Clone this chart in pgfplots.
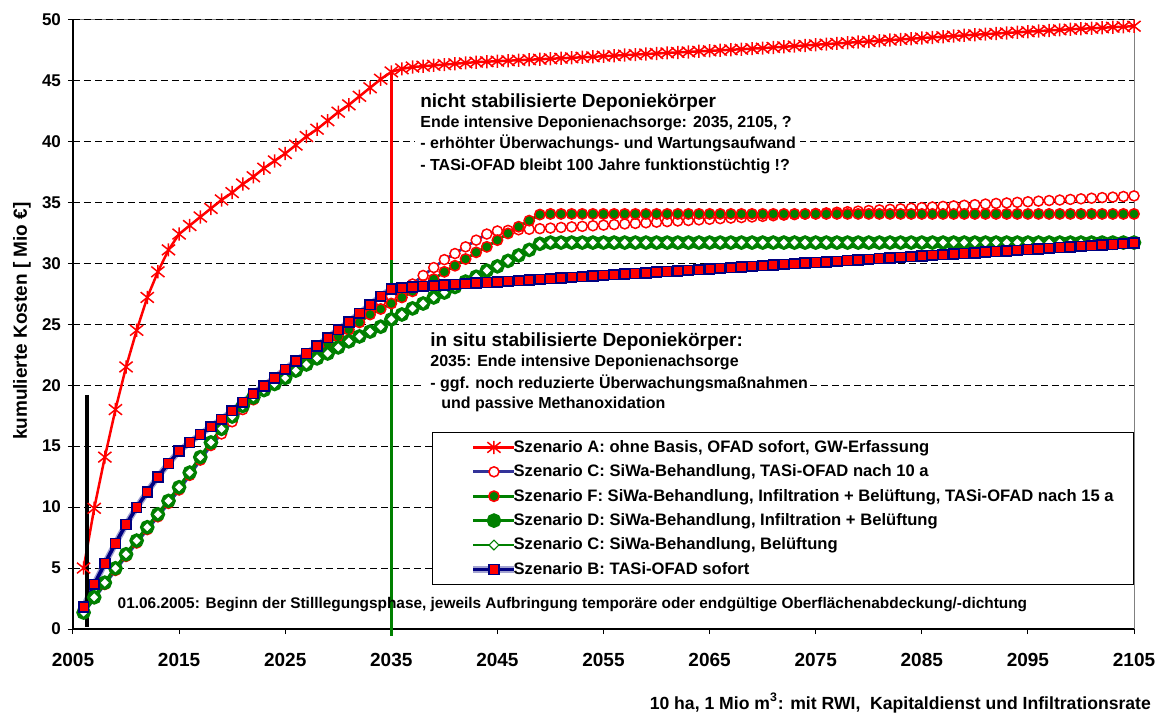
\documentclass[border=0pt]{standalone}
\usepackage{fontspec}
\setmainfont{Liberation Sans}
\usepackage{pgfplots}
\usepackage{pgfplotstable}
\pgfplotsset{compat=1.18}
\definecolor{xred}{RGB}{255,0,0}
\definecolor{xgreen}{RGB}{0,128,0}
\definecolor{xnavy}{RGB}{0,0,128}
\definecolor{xblue}{RGB}{51,51,153}
\pgfdeclareplotmark{xlstar}{%
 \pgfpathmoveto{\pgfqpoint{-\pgfplotmarksize}{-0.8\pgfplotmarksize}}%
 \pgfpathlineto{\pgfqpoint{\pgfplotmarksize}{0.8\pgfplotmarksize}}%
 \pgfpathmoveto{\pgfqpoint{-\pgfplotmarksize}{0.8\pgfplotmarksize}}%
 \pgfpathlineto{\pgfqpoint{\pgfplotmarksize}{-0.8\pgfplotmarksize}}%
 \pgfpathmoveto{\pgfqpoint{0pt}{-\pgfplotmarksize}}%
 \pgfpathlineto{\pgfqpoint{0pt}{\pgfplotmarksize}}%
 \pgfusepathqstroke}
\pgfplotstableread{
yr A C F D B
2006 5.0 1.3 1.4 1.35 1.8
2007 9.9 2.5 2.65 2.6 3.66
2008 14.1 3.65 3.85 3.8 5.38
2009 18.0 4.8 5.0 4.98 7.02
2010 21.5 5.95 6.15 6.13 8.58
2011 24.5 7.05 7.25 7.25 9.97
2012 27.2 8.15 8.35 8.35 11.25
2013 29.3 9.2 9.45 9.41 12.48
2014 31.1 10.3 10.55 10.51 13.58
2015 32.4 11.4 11.65 11.63 14.6
2016 33.1 12.6 12.85 12.83 15.3
2017 33.8 13.85 14.1 14.1 15.96
2018 34.5 15.05 15.3 15.3 16.6
2019 35.2 16.0 16.4 16.42 17.2
2020 35.8 17.0 17.45 17.43 17.9
2021 36.5 18.0 18.45 18.3 18.6
2022 37.1 18.8 19.2 19.0 19.3
2023 37.8 19.6 19.9 19.6 19.95
2024 38.4 20.4 20.45 20.1 20.6
2025 39.0 21.15 21.0 20.6 21.3
2026 39.7 21.8 21.6 21.2 22.0
2027 40.4 22.45 22.2 21.7 22.6
2028 41.0 23.05 22.8 22.2 23.2
2029 41.7 23.7 23.4 22.6 23.9
2030 42.4 24.35 24.0 23.1 24.55
2031 43.0 25.0 24.55 23.6 25.2
2032 43.7 25.65 25.15 24.0 25.9
2033 44.4 26.3 25.8 24.4 26.6
2034 45.1 26.9 26.25 24.8 27.3
2035 45.7 27.3 26.7 25.4 27.9
2036 45.95 27.7 27.2 25.8 28.0
2037 46.1 28.3 27.7 26.3 28.05
2038 46.17 29.0 28.2 26.7 28.11
2039 46.24 29.65 28.7 27.2 28.16
2040 46.3 30.3 29.3 27.6 28.21
2041 46.37 30.8 29.8 28.06 28.27
2042 46.44 31.35 30.35 28.5 28.32
2043 46.5 31.9 30.9 28.9 28.37
2044 46.54 32.4 31.35 29.4 28.42
2045 46.58 32.65 31.9 29.75 28.48
2046 46.62 32.70 32.45 30.2 28.53
2047 46.66 32.75 33.0 30.65 28.58
2048 46.7 32.79 33.5 31.1 28.64
2049 46.74 32.84 34.0 31.6 28.69
2050 46.78 32.89 34.05 31.7 28.74
2051 46.82 32.94 34.05 31.7 28.80
2052 46.86 32.99 34.05 31.7 28.85
2053 46.9 33.03 34.05 31.7 28.90
2054 46.94 33.08 34.05 31.7 28.95
2055 46.99 33.13 34.05 31.7 29.01
2056 47.03 33.18 34.05 31.7 29.06
2057 47.08 33.23 34.05 31.7 29.11
2058 47.12 33.27 34.05 31.7 29.17
2059 47.17 33.32 34.05 31.7 29.22
2060 47.21 33.37 34.05 31.7 29.27
2061 47.26 33.42 34.05 31.7 29.33
2062 47.3 33.47 34.05 31.7 29.38
2063 47.34 33.51 34.05 31.7 29.43
2064 47.39 33.56 34.05 31.7 29.48
2065 47.43 33.61 34.05 31.7 29.54
2066 47.47 33.66 34.05 31.7 29.59
2067 47.52 33.71 34.05 31.7 29.64
2068 47.56 33.75 34.05 31.7 29.70
2069 47.61 33.80 34.05 31.7 29.75
2070 47.65 33.85 34.05 31.7 29.80
2071 47.71 33.90 34.05 31.7 29.86
2072 47.76 33.95 34.05 31.7 29.91
2073 47.82 33.99 34.05 31.7 29.96
2074 47.87 34.04 34.05 31.7 30.01
2075 47.93 34.09 34.05 31.7 30.07
2076 47.98 34.14 34.05 31.7 30.12
2077 48.04 34.19 34.05 31.7 30.17
2078 48.09 34.23 34.05 31.7 30.23
2079 48.15 34.28 34.05 31.7 30.28
2080 48.2 34.33 34.05 31.7 30.33
2081 48.26 34.38 34.05 31.7 30.39
2082 48.31 34.43 34.05 31.7 30.44
2083 48.37 34.47 34.05 31.7 30.49
2084 48.42 34.52 34.05 31.7 30.54
2085 48.48 34.57 34.05 31.7 30.60
2086 48.53 34.62 34.05 31.7 30.65
2087 48.59 34.67 34.05 31.7 30.70
2088 48.64 34.71 34.05 31.7 30.76
2089 48.7 34.76 34.05 31.7 30.81
2090 48.75 34.81 34.05 31.7 30.86
2091 48.8 34.86 34.05 31.7 30.92
2092 48.85 34.91 34.05 31.7 30.97
2093 48.9 34.95 34.05 31.7 31.02
2094 48.95 35.00 34.05 31.7 31.07
2095 49.0 35.05 34.05 31.7 31.13
2096 49.05 35.10 34.05 31.7 31.18
2097 49.1 35.15 34.05 31.7 31.23
2098 49.15 35.19 34.05 31.7 31.29
2099 49.2 35.24 34.05 31.7 31.34
2100 49.24 35.29 34.05 31.7 31.39
2101 49.28 35.34 34.05 31.7 31.45
2102 49.32 35.39 34.05 31.7 31.50
2103 49.37 35.43 34.05 31.7 31.55
2104 49.41 35.48 34.05 31.7 31.60
2105 49.45 35.53 34.05 31.7 31.66
}\data
\begin{document}
\begin{tikzpicture}
\begin{axis}[
 scale only axis, width=530.5pt, height=304.75pt,
 xmin=2005, xmax=2105, ymin=0, ymax=50,
 axis x line*=bottom, axis y line*=left,
 axis line style={black, line width=1pt},
 xtick={2005,2015,2025,2035,2045,2055,2065,2075,2085,2095,2105},
 xticklabels={2005,2015,2025,2035,2045,2055,2065,2075,2085,2095,2105},
 ytick={0,5,10,15,20,25,30,35,40,45,50},
 yticklabels={0,5,10,15,20,25,30,35,40,45,50},
 tick align=outside, major tick length=2.5pt, tick style={black, line width=0.5pt},
 ymajorgrids, grid style={black, line width=0.5pt, dash pattern=on 3.5pt off 2pt},
 xticklabel style={font=\fontsize{9.5}{11}\selectfont\bfseries, yshift=-6pt},
 yticklabel style={font=\fontsize{8.5}{10}\selectfont\bfseries},
 ylabel={kumulierte Kosten [ Mio €]},
 ylabel style={font=\fontsize{9.5}{11}\selectfont\bfseries, at={(rel axis cs:-0.048,0.505)}, anchor=center},
 xlabel={10 ha, 1 Mio m\textsuperscript{3}: mit RWI,\ \ Kapitaldienst und Infiltrationsrate},
 xlabel style={font=\fontsize{8.8}{10}\selectfont\bfseries, at={(rel axis cs:1.0225,-0.121)}, anchor=east},
 clip=false,
 legend cell align=left,
 legend style={at={(1,0.3232)}, anchor=north east, draw=black, fill=white,
   font=\fontsize{8.3}{9.9}\selectfont\bfseries, inner xsep=10pt, inner ysep=3.6pt,
   row sep=4.4pt, column sep=-2pt,
   nodes={inner sep=0pt, text height=6.3pt, text depth=1.5pt}},
 legend image code/.code={\path (-9pt,0pt); \draw[mark repeat=2,mark phase=2] plot coordinates {(0pt,0pt) (10.25pt,0pt) (20.5pt,0pt)};},
]
\draw[gray, line width=0.5pt] (rel axis cs:0,1) -- (rel axis cs:1,1) -- (rel axis cs:1,0);
\draw[black, line width=0.5pt, dash pattern=on 3.5pt off 2pt] (rel axis cs:0,1) -- (rel axis cs:1,1);

\addplot[xred, line width=1.25pt, mark=xlstar, mark size=3.3pt, mark options={solid, line width=0.75pt, xred}] table[x=yr,y=A]{\data};
\addlegendentry{Szenario A: ohne Basis, OFAD sofort, GW-Erfassung}
\addplot[xblue, line width=1.4pt, mark=*, mark size=2.5pt, mark options={draw=xred, fill=white, line width=0.75pt}] table[x=yr,y=C]{\data};
\addlegendentry{Szenario C: SiWa-Behandlung, TASi-OFAD nach 10 a}
\addplot[xgreen, line width=1.4pt, mark=*, mark size=2.6pt, mark options={draw=xred, fill=xgreen, line width=0.75pt}] table[x=yr,y=F]{\data};
\addlegendentry{Szenario F: SiWa-Behandlung, Infiltration + Belüftung, TASi-OFAD nach 15 a}
\addplot[xgreen, line width=1.7pt, mark=*, mark size=2.8pt, mark options={draw=xgreen, fill=xgreen}] table[x=yr,y=D]{\data};
\addlegendentry{Szenario D: SiWa-Behandlung, Infiltration + Belüftung}
\addplot[xgreen, line width=1.4pt, mark=square*, mark size=1.75pt, mark options={rotate=45, draw=xgreen, fill=white, line width=0.55pt}] table[x=yr,y=D]{\data};
\addlegendentry{Szenario C: SiWa-Behandlung, Belüftung}
\addplot[xnavy, line width=1.8pt, preaction={draw=xblue!45, line width=3.2pt}, mark=square*, mark size=2.45pt, mark options={draw=xnavy, fill=xred, line width=0.8pt}] table[x=yr,y=B]{\data};
\addlegendentry{Szenario B: TASi-OFAD sofort}

\addplot[xred, line width=1.7pt, forget plot] coordinates {(2035,45.5) (2035,30.3)};
\addplot[xgreen, line width=1.7pt, forget plot] coordinates {(2035,30.3) (2035,-0.6)};
\addplot[black, line width=2pt, forget plot] coordinates {(2006.3,19.2) (2006.3,0.2)};

\fill[white] (axis cs:2037.2,44.4) rectangle (axis cs:2073.5,37.0);
\node[anchor=base west, font=\fontsize{9.5}{11}\selectfont\bfseries, inner sep=0pt] at (axis cs:2037.7,42.82) {nicht stabilisierte Deponiekörper};
\node[anchor=base west, font=\fontsize{8}{9.6}\selectfont\bfseries, inner sep=0pt] at (axis cs:2037.7,41.12) {Ende intensive Deponienachsorge: 2035, 2105, ?};
\node[anchor=base west, font=\fontsize{8}{9.6}\selectfont\bfseries, inner sep=0pt] at (axis cs:2037.7,39.43) {- erhöhter Überwachungs- und Wartungsaufwand};
\node[anchor=base west, font=\fontsize{8}{9.6}\selectfont\bfseries, inner sep=0pt] at (axis cs:2037.7,37.65) {- TASi-OFAD bleibt 100 Jahre funktionstüchtig !?};

\fill[white] (axis cs:2038.2,24.69) rectangle (axis cs:2074.5,17.55);
\node[anchor=base west, font=\fontsize{9.5}{11}\selectfont\bfseries, inner sep=0pt] at (axis cs:2038.65,23.2) {in situ stabilisierte Deponiekörper:};
\node[anchor=base west, font=\fontsize{8}{9.6}\selectfont\bfseries, inner sep=0pt] at (axis cs:2038.65,21.5) {2035: Ende intensive Deponienachsorge};
\node[anchor=base west, font=\fontsize{8}{9.6}\selectfont\bfseries, inner sep=0pt] at (axis cs:2038.65,19.77) {- ggf. noch reduzierte Überwachungsmaßnahmen};
\node[anchor=base west, font=\fontsize{8}{9.6}\selectfont\bfseries, inner sep=0pt] at (axis cs:2039.68,18.05) {und passive Methanoxidation};

\node[anchor=base west, font=\fontsize{7.7}{9}\selectfont\bfseries, inner sep=0pt] at (axis cs:2009.18,1.72) {01.06.2005: Beginn der Stilllegungsphase, jeweils Aufbringung temporäre oder endgültige Oberflächenabdeckung/-dichtung};
\end{axis}
\pgfresetboundingbox
\path[use as bounding box] ([shift={(-36.5pt,-42pt)}]current axis.south west) rectangle ([shift={(11.5pt,9.75pt)}]current axis.north east);
\end{tikzpicture}
\end{document}
